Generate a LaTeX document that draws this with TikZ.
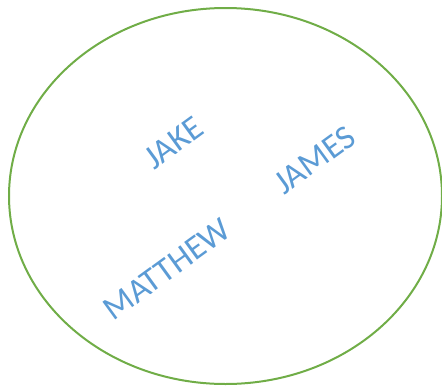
\documentclass[tikz,border=0pt]{standalone}
\usepackage{fontspec}
\setmainfont{Carlito}
\usepackage{tikz}
\definecolor{leafgreen}{HTML}{70AD47}
\definecolor{nameblue}{HTML}{5B9BD5}
\tikzset{
  setline/.style={draw=leafgreen,line width=2pt},
  member/.style={text=nameblue,font=\fontsize{34}{40}\selectfont,rotate=36,inner sep=0pt}
}

\begin{document}
\begin{tikzpicture}[x=1pt,y=-1pt]
  \useasboundingbox (0,0) rectangle (442,386);
  \draw[setline] (225.5,196) ellipse [x radius=216.5,y radius=188];
  \node[member] (jake) at (174,143) {JAKE};
  \node[member] (james) at (315,160) {JAMES};
  \node[member] (matthew) at (167,269) {MATTHEW};
\end{tikzpicture}
\end{document}
